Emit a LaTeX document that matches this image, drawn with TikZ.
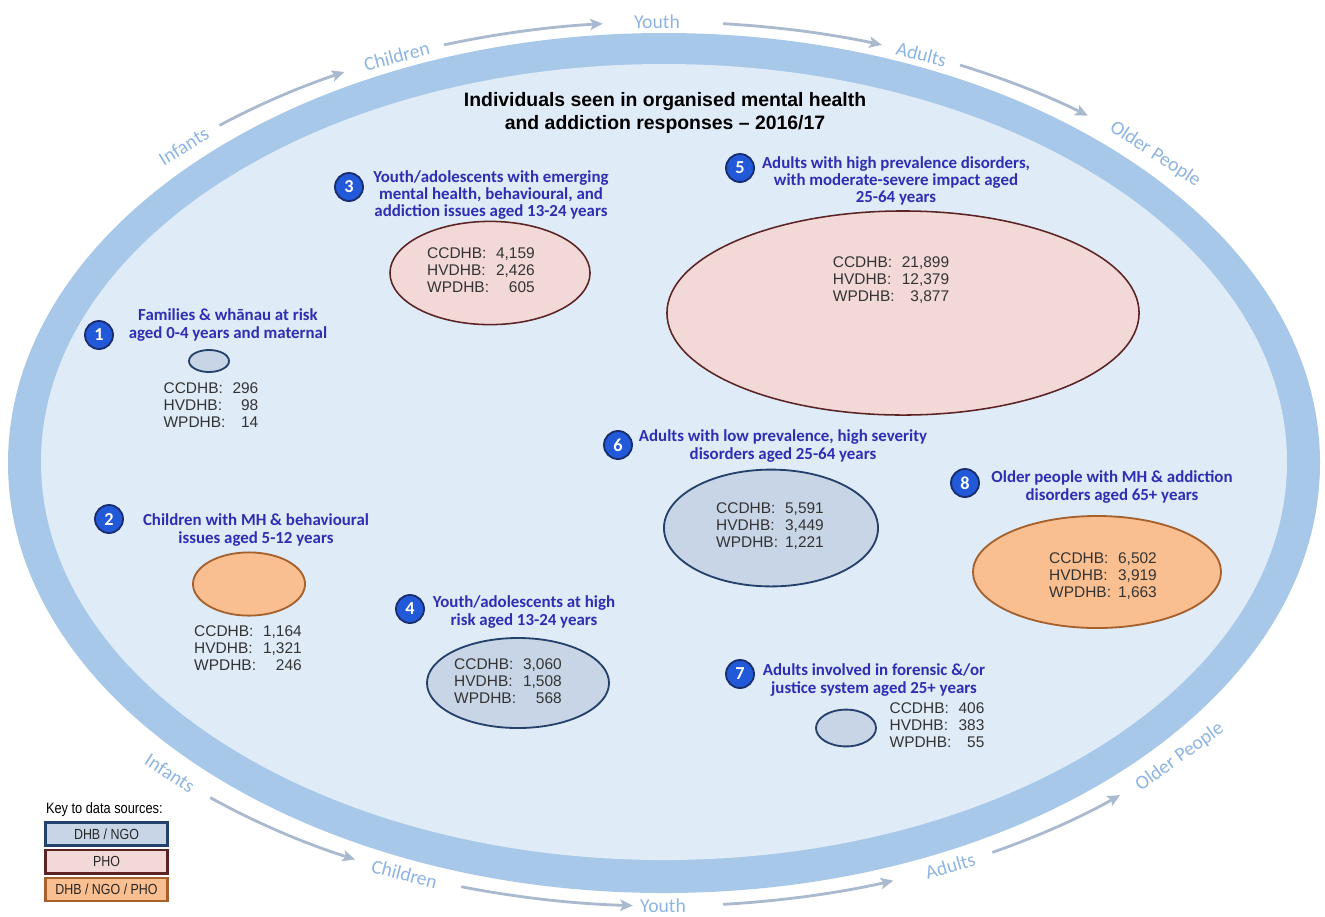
\documentclass[tikz,border=0pt]{standalone}
\usepackage{fontspec}
\setmainfont{Liberation Sans}
\newfontfamily\calibri{Carlito}
\newfontfamily\narrowfont[FakeStretch=0.85]{Liberation Sans}
\usetikzlibrary{arrows.meta,positioning,calc,shapes.geometric}
\definecolor{Band}{HTML}{A7C8E8}
\definecolor{Inner}{HTML}{DFEBF7}
\definecolor{AgeText}{HTML}{8DB4E2}
\definecolor{AgeLine}{HTML}{A9B9CE}
\definecolor{Caption}{HTML}{2E2EB2}
\definecolor{Badge}{HTML}{2259D8}
\definecolor{BadgeEdge}{HTML}{1A2D6E}
\definecolor{DhbFill}{HTML}{C8D5E6}
\definecolor{DhbEdge}{HTML}{24416B}
\definecolor{PhoFill}{HTML}{F2D9D7}
\definecolor{PhoEdge}{HTML}{5B2324}
\definecolor{MixFill}{HTML}{F9BF91}
\definecolor{MixEdge}{HTML}{A5602C}
\definecolor{CountInk}{HTML}{333333}
\tikzset{
  agelabel/.style={font=\calibri\fontsize{14}{14}\selectfont,text=AgeText,inner sep=1pt},
  ageline/.style={-{Stealth[length=9pt,width=8pt,inset=2pt]},draw=AgeLine,line width=2pt},
  headline/.style={font=\bfseries\fontsize{13.8}{16.4}\selectfont,align=center,text=black},
  grouptext/.style={font=\calibri\bfseries\fontsize{12}{12.2}\selectfont,align=center,text=Caption,inner sep=0pt},
  badge/.style={circle,fill=Badge,draw=BadgeEdge,line width=1.3pt,minimum size=0.7cm,inner sep=0pt,text=white,font=\calibri\bfseries\fontsize{13}{13}\selectfont},
  counts/.style={font=\fontsize{11}{12.1}\selectfont,text=CountInk,inner sep=0pt},
  dhbngo/.style={ellipse,fill=DhbFill,draw=DhbEdge,line width=1.3pt,inner sep=0pt},
  pho/.style={ellipse,fill=PhoFill,draw=PhoEdge,line width=1.1pt,inner sep=0pt},
  mixed/.style={ellipse,fill=MixFill,draw=MixEdge,line width=1.3pt,inner sep=0pt},
  keybox/.style={draw,line width=1.6pt,minimum width=3.05cm,minimum height=0.58cm,inner sep=0pt,font=\narrowfont\fontsize{10.4}{11}\selectfont,text=black!85}
}
\newcommand{\dhbcounts}[3]{\begin{tabular}{@{}l@{\hspace{5pt}}r@{}}CCDHB: & #1\\ HVDHB: & #2\\ WPDHB: & #3\end{tabular}}

\begin{document}
\begin{tikzpicture}[x=0.025cm,y=0.025cm]
  \useasboundingbox (0,0) rectangle (1325,-916);
  % life-course ring
  \fill[Band] (664,-463) ellipse [x radius=656,y radius=430];
  \fill[Inner] (664,-462) ellipse [x radius=623,y radius=398];
  \coordinate (life) at (663,-464);
  \foreach \t/\r/\lbl in {134/31.5/Infants, 112.7/15/Children, 90.5/0/Youth, 68/-14.5/Adults, 44.5/-33/Older People,
      -135.6/-33/Infants, -112/-14.5/Children, -90/0/Youth, -65.4/16.4/Adults, -41.5/36/Older People}
    \node[agelabel,rotate=\r] at ($(life)+(\t:690 and 442)$) {\lbl};
  \foreach \a/\b in {130/117.5, 108.5/95, 85/71.5, 64.5/52, -131/-116.5, -107/-92.5, -85/-70.5, -61.5/-48.5}
    \draw[ageline] ($(life)+(\a:690 and 442)$) arc [start angle=\a, end angle=\b, x radius=690, y radius=442];

  \node[headline] (head) at (665,-113) {Individuals seen in organised mental health\\and addiction responses -- 2016/17};

  % 1 families
  \node[grouptext] (c1) at (228,-325) {Families \& whānau at risk\\aged 0-4 years and maternal};
  \node[badge] (b1) at (99,-335) {1};
  \node[dhbngo,minimum width=1cm,minimum height=0.55cm] (e1) at (209,-361) {};
  \node[counts] (n1) at (211,-407) {\dhbcounts{296}{98}{14}};

  % 2 children
  \node[grouptext] (c2) at (256,-530) {Children with MH \& behavioural\\issues aged 5-12 years};
  \node[badge] (b2) at (109,-519) {2};
  \node[mixed,minimum width=2.8cm,minimum height=1.58cm] (e2) at (249,-584) {};
  \node[counts] (n2) at (248,-650) {\dhbcounts{1,164}{1,321}{246}};

  % 3 youth emerging
  \node[grouptext] (c3) at (491,-195) {Youth/adolescents with emerging\\mental health, behavioural, and\\addiction issues aged 13-24 years};
  \node[badge] (b3) at (349,-187) {3};
  \node[pho,minimum width=5cm,minimum height=2.58cm] (e3) at (490,-273) {};
  \node[counts] (n3) at (481,-272) {\dhbcounts{4,159}{2,426}{605}};

  % 4 youth high risk
  \node[grouptext] (c4) at (524,-612) {Youth/adolescents at high\\risk aged 13-24 years};
  \node[badge] (b4) at (410,-609) {4};
  \node[dhbngo,minimum width=4.55cm,minimum height=2.25cm] (e4) at (518,-683) {};
  \node[counts] (n4) at (508,-683) {\dhbcounts{3,060}{1,508}{568}};

  % 5 adults high prevalence
  \node[grouptext] (c5) at (896,-181) {Adults with high prevalence disorders,\\with moderate-severe impact aged\\25-64 years};
  \node[badge] (b5) at (740,-168) {5};
  \node[pho,minimum width=11.8cm,minimum height=5.1cm] (e5) at (903,-313) {};
  \node[counts] (n5) at (891,-281) {\dhbcounts{21,899}{12,379}{3,877}};

  % 6 adults low prevalence
  \node[grouptext] (c6) at (783,-446) {Adults with low prevalence, high severity\\disorders aged 25-64 years};
  \node[badge] (b6) at (618,-445) {6};
  \node[dhbngo,minimum width=5.35cm,minimum height=2.92cm] (e6) at (771,-528) {};
  \node[counts] (n6) at (770,-527) {\dhbcounts{5,591}{3,449}{1,221}};

  % 7 forensic
  \node[grouptext] (c7) at (874,-680) {Adults involved in forensic \&/or\\justice system aged 25+ years};
  \node[badge] (b7) at (740,-674) {7};
  \node[dhbngo,minimum width=1.5cm,minimum height=0.92cm] (e7) at (846,-728) {};
  \node[counts] (n7) at (937,-727) {\dhbcounts{406}{383}{55}};

  % 8 older people
  \node[grouptext] (c8) at (1112,-487) {Older people with MH \& addiction\\disorders aged 65+ years};
  \node[badge] (b8) at (965,-483) {8};
  \node[mixed,minimum width=6.2cm,minimum height=2.8cm] (e8) at (1097,-572) {};
  \node[counts] (n8) at (1103,-577) {\dhbcounts{6,502}{3,919}{1,663}};

  % key
  \node[keybox,fill=DhbFill,draw=DhbEdge] (k1) at (106.5,-834) {DHB / NGO};
  \node[keybox,fill=PhoFill,draw=PhoEdge,below=0.06cm of k1] (k2) {PHO};
  \node[keybox,fill=MixFill,draw=MixEdge,below=0.06cm of k2] (k3) {DHB / NGO / PHO};
  \node[anchor=south west,inner sep=0pt,font=\narrowfont\fontsize{10.7}{11}\selectfont] (key) at ([xshift=1pt,yshift=3pt]k1.north west) {Key to data sources:};
\end{tikzpicture}
\end{document}
